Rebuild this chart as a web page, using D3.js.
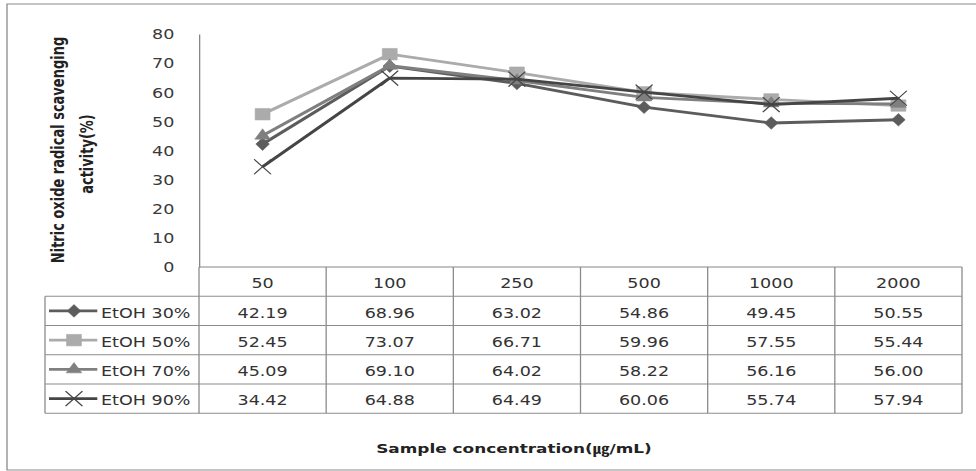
<!DOCTYPE html>
<html>
<head>
<meta charset="utf-8">
<script src="https://cdn.jsdelivr.net/npm/d3@7"></script>
<style>
  html, body { margin: 0; padding: 0; background: #fff; }
  svg { display: block; }
</style>
</head>
<body>
<script>
// Concentrations (category axis / table header)
const categories = ["50", "100", "250", "500", "1000", "2000"];
// Y axis ticks
const yTicks = [0, 10, 20, 30, 40, 50, 60, 70, 80];
// Series names
const seriesNames = ["EtOH 30%", "EtOH 50%", "EtOH 70%", "EtOH 90%"];
// Nitric oxide radical scavenging activity (%) per series
const etoh30 = [42.19, 68.96, 63.02, 54.86, 49.45, 50.55];
const etoh50 = [52.45, 73.07, 66.71, 59.96, 57.55, 55.44];
const etoh70 = [45.09, 69.10, 64.02, 58.22, 56.16, 56.00];
const etoh90 = [34.42, 64.88, 64.49, 60.06, 55.74, 57.94];
// Labels
const yTitleLines = ["Nitric oxide radical scavenging", "activity(%)"];
const xTitle = "Sample concentration(㎍/mL)";

const seriesValues = [etoh30, etoh50, etoh70, etoh90];
const seriesColors = ["#5c5c5c", "#ababab", "#7f7f7f", "#454545"];
const seriesMarkers = ["diamond", "square", "triangle", "cross"];

const W = 976, H = 471;
const K = 1.3; // horizontal stretch of the whole drawing
const svg = d3.select("body").append("svg").attr("width", W).attr("height", H);
svg.append("rect").attr("width", W).attr("height", H).attr("fill", "#fff");
const g = svg.append("g").attr("transform", `scale(${K},1)`);

const FONT = "'DejaVu Sans', 'Noto Sans CJK KR', sans-serif";
const gridColor = "#8c8c8c";

// Layout (unstretched units)
const borderLeft = 7 / K, borderTop = 4, borderBottom = 470;
const axisX = 199 / K, tableLeft = 45 / K, tableRight = 962 / K;
const yZero = 267, yTop = 34;
const rowH = 29.26;

// Outer chart border
g.append("rect")
  .attr("x", borderLeft).attr("y", borderTop)
  .attr("width", W / K + 20).attr("height", borderBottom - borderTop)
  .attr("fill", "none").attr("stroke", "#8a8a8a").attr("stroke-width", 1);

const x = d3.scaleBand().domain(categories).range([axisX, tableRight]).padding(0);
const y = d3.scaleLinear().domain([0, 80]).range([yZero, yTop]);
const cx = c => x(c) + x.bandwidth() / 2;

// Y axis
const yAxis = g.append("g").attr("transform", `translate(${axisX},0)`)
  .call(d3.axisLeft(y).tickValues(yTicks).tickSizeInner(0).tickSizeOuter(0).tickPadding(19));
yAxis.select(".domain").attr("stroke", "#868686").attr("stroke-width", 1);
yAxis.selectAll("text")
  .attr("font-family", FONT).attr("font-size", 13.5).attr("fill", "#3a3a3a").attr("dy", "0.36em");

// Y title (two lines)
g.selectAll("text.ytitle").data(yTitleLines).join("text")
  .attr("class", "ytitle")
  .attr("transform", (d, i) => `translate(${i === 0 ? 49.5 : 71.5},${i === 0 ? 150 : 154}) rotate(-90)`)
  .attr("text-anchor", "middle")
  .attr("font-family", FONT).attr("font-size", 13).attr("font-weight", "bold")
  .attr("fill", "#222")
  .text(d => d);

// Data table grid
const rowTops = d3.range(seriesNames.length + 2).map(i => yZero + i * rowH);
const tableBottom = rowTops[rowTops.length - 1];
const table = g.append("g").attr("stroke", gridColor).attr("stroke-width", 1).attr("fill", "none");
// x axis / header top
table.append("line").attr("x1", axisX).attr("x2", tableRight).attr("y1", yZero).attr("y2", yZero)
  .attr("stroke", "#868686");
// row lines
table.selectAll("line.row").data(rowTops.slice(1)).join("line")
  .attr("class", "row")
  .attr("x1", tableLeft).attr("x2", tableRight).attr("y1", d => d).attr("y2", d => d);
// column separators
const colEdges = categories.map(c => x(c)).concat([tableRight]);
table.selectAll("line.col").data(colEdges).join("line")
  .attr("class", "col")
  .attr("x1", d => d).attr("x2", d => d).attr("y1", yZero).attr("y2", tableBottom);
table.append("line").attr("x1", tableLeft).attr("x2", tableLeft)
  .attr("y1", rowTops[1]).attr("y2", tableBottom);

// Header labels
g.selectAll("text.head").data(categories).join("text")
  .attr("class", "head")
  .attr("x", d => cx(d)).attr("y", rowTops[0] + 21)
  .attr("text-anchor", "middle")
  .attr("font-family", FONT).attr("font-size", 13.5).attr("fill", "#333")
  .text(d => d);

// Marker generator
function markerPath(type) {
  const p = d3.path();
  if (type === "diamond") {
    p.moveTo(0, -6.3); p.lineTo(5.2, 0); p.lineTo(0, 6.3); p.lineTo(-5.2, 0); p.closePath();
    return p.toString();
  }
  if (type === "square") return d3.symbol(d3.symbolSquare, 132)();
  if (type === "triangle") return d3.symbol(d3.symbolTriangle, 62)();
  p.moveTo(-6.5, -7.5); p.lineTo(6.5, 7.5); p.moveTo(-6.5, 7.5); p.lineTo(6.5, -7.5);
  return p.toString();
}
function drawMarker(sel, i) {
  const t = seriesMarkers[i];
  sel.append("path")
    .attr("d", markerPath(t))
    .attr("fill", t === "cross" ? "none" : seriesColors[i])
    .attr("stroke", seriesColors[i])
    .attr("stroke-width", t === "cross" ? 1.1 : 0.5);
}

// Series lines and markers
const line = d3.line().x((d, j) => cx(categories[j])).y(d => y(d));
seriesValues.forEach((vals, i) => {
  const sg = g.append("g");
  sg.append("path").datum(vals)
    .attr("d", line)
    .attr("fill", "none").attr("stroke", seriesColors[i])
    .attr("stroke-width", 2.8).attr("stroke-linejoin", "round");
  sg.selectAll("g.pt").data(vals).join("g")
    .attr("class", "pt")
    .attr("transform", (d, j) => `translate(${cx(categories[j])},${y(d)})`)
    .each(function () { drawMarker(d3.select(this), i); });
});

// Table rows: legend key, name, values
seriesNames.forEach((name, i) => {
  const top = rowTops[i + 1];
  const mid = top + rowH / 2;
  const rg = g.append("g");
  rg.append("line")
    .attr("x1", 49 / K).attr("x2", 97.3 / K).attr("y1", mid).attr("y2", mid)
    .attr("stroke", seriesColors[i]).attr("stroke-width", 2.8);
  drawMarker(rg.append("g").attr("transform", `translate(${74 / K},${mid})`), i);
  rg.append("text")
    .attr("x", 101 / K).attr("y", top + 21.3)
    .attr("font-family", FONT).attr("font-size", 13.5).attr("fill", "#333")
    .text(name);
  rg.selectAll("text.val").data(seriesValues[i]).join("text")
    .attr("class", "val")
    .attr("x", (d, j) => cx(categories[j])).attr("y", top + 21.3)
    .attr("text-anchor", "middle")
    .attr("font-family", FONT).attr("font-size", 13.5).attr("fill", "#333")
    .text(d => d.toFixed(2));
});

// X title
g.append("text")
  .attr("x", 514 / K).attr("y", 453)
  .attr("text-anchor", "middle")
  .attr("font-family", FONT).attr("font-size", 13).attr("font-weight", "bold")
  .attr("fill", "#222")
  .text(xTitle);
</script>
</body>
</html>
